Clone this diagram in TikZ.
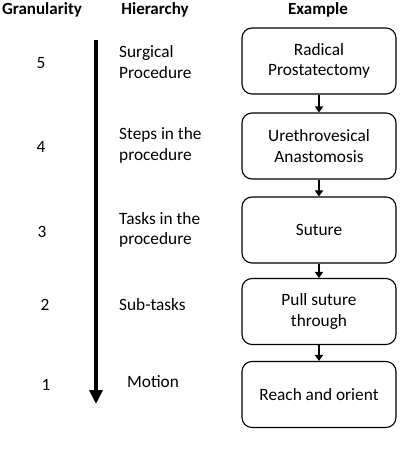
\documentclass[tikz,border=0pt]{standalone}
\usepackage{fontspec}
\setmainfont{Carlito}
\usetikzlibrary{arrows.meta}
\begin{document}
\begin{tikzpicture}[x=1pt,y=-1pt,
  every node/.style={font=\fontsize{17.3}{20.5}\selectfont, inner sep=0pt},
  head/.style={font=\fontsize{17}{20.5}\selectfont\bfseries},
  num/.style={},
  level/.style={anchor=west, align=left},
  exbox/.style={draw, line width=1.1pt, rounded corners=10pt, minimum width=154pt, minimum height=66pt, align=center},
  smallarrow/.style={line width=2pt, -{Triangle[length=6pt,width=8pt]}},
  bigarrow/.style={line width=4pt, -{Triangle[length=14pt,width=13pt]}}
]
\useasboundingbox (0,0) rectangle (420,450);
% headers
\node[head] (hg) at (42,10) {Granularity};
\node[head] (hh) at (155,10) {Hierarchy};
\node[head] (he) at (318,10) {Example};
% numbers
\node[num] (n5) at (41,63) {5};
\node[num] (n4) at (41,147) {4};
\node[num] (n3) at (42,232) {3};
\node[num] (n2) at (45,305) {2};
\node[num] (n1) at (46,385) {1};
% big arrow
\coordinate (atop) at (96,40);
\coordinate (abot) at (96,404);
\draw[bigarrow] (atop) -- (abot);
% hierarchy labels
\node[level] (h5) at (119,62) {Surgical\\Procedure};
\node[level] (h4) at (119,145.5) {Steps in the\\procedure};
\node[level] (h3) at (119,230) {Tasks in the\\procedure};
\node[level] (h2) at (119,305) {Sub-tasks};
\node[level] (h1) at (127,382) {Motion};
% example boxes
\node[exbox] (b5) at (319,61) {Radical\\Prostatectomy};
\node[exbox] (b4) at (319,146) {Urethrovesical\\Anastomosis};
\node[exbox] (b3) at (319,230) {Suture};
\node[exbox] (b2) at (319,311.5) {Pull suture\\through};
\node[exbox] (b1) at (319,394.5) {Reach and orient};
\draw[smallarrow] (b5) -- (b4);
\draw[smallarrow] (b4) -- (b3);
\draw[smallarrow] (b3) -- (b2);
\draw[smallarrow] (b2) -- (b1);
\end{tikzpicture}
\end{document}
